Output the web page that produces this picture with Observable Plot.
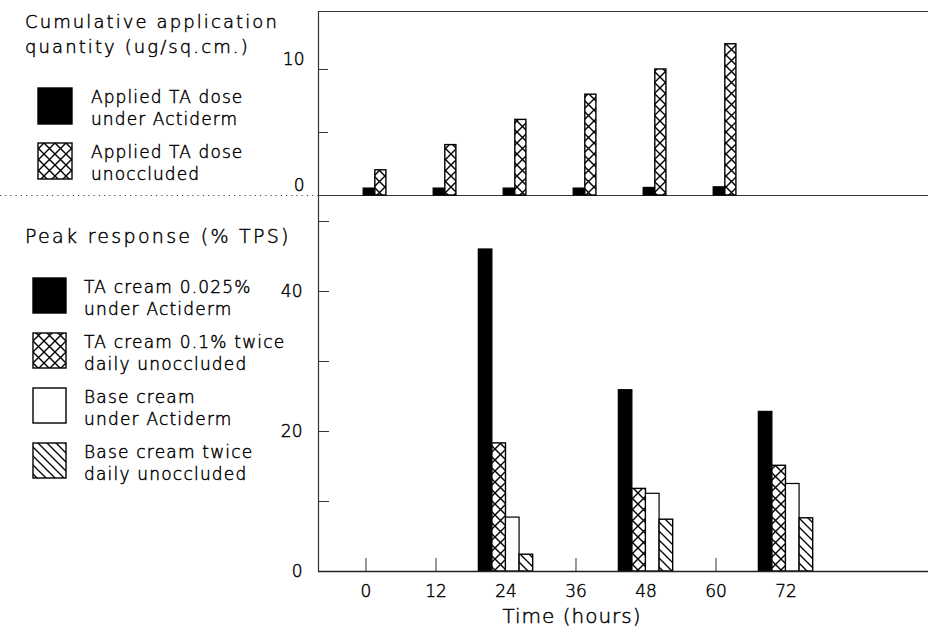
<!DOCTYPE html>
<html><head><meta charset="utf-8">
<script src="https://cdn.jsdelivr.net/npm/d3@7"></script>
<script src="https://cdn.jsdelivr.net/npm/@observablehq/plot@0.6"></script>
<style>
body{margin:0;background:#fff;}
#fig{position:relative;width:928px;height:632px;overflow:hidden;font-family:"DejaVu Sans",sans-serif;font-weight:200;color:#000;}
#fig > svg, #fig > div{position:absolute;}
#fig svg text{paint-order:normal !important;}
</style></head><body>
<div id="fig"></div>
<script>
// ---------- data ----------
const hours = [0, 12, 24, 36, 48, 60, 72];
const doseTimes = [0, 12, 24, 36, 48, 60];
const doseOccluded = [0.55, 0.55, 0.55, 0.55, 0.6, 0.65];
const doseUnoccluded = [2, 4, 6, 8, 10, 12];
const responseTimes = [24, 48, 72];
const taOccluded = [46, 25.9, 22.8];
const taUnoccluded = [18.3, 11.8, 15.1];
const baseOccluded = [7.7, 11.1, 12.5];
const baseUnoccluded = [2.4, 7.4, 7.6];
const topTicks = [5, 10];
const topTickLabels = [0, 10];
const bottomTicks = [10, 20, 30, 40, 50];
const bottomTickLabels = [0, 20, 40];
const topTitle = ["Cumulative application", "quantity (ug/sq.cm.)"];
const topLegend = [["Applied TA dose", "under Actiderm"], ["Applied TA dose", "unoccluded"]];
const bottomTitle = "Peak response (% TPS)";
const bottomLegend = [["TA cream 0.025%", "under Actiderm"], ["TA cream 0.1% twice", "daily unoccluded"], ["Base cream", "under Actiderm"], ["Base cream twice", "daily unoccluded"]];
const xLabel = "Time (hours)";

// ---------- styles ----------
const FONT = '"DejaVu Sans",sans-serif';
const FW = 200;
const INK = "#000";
const TS = 0.45; // slight text stroke to thicken the light face
const fillSolid = "#000", fillCross = "url(#pat-cross)", fillWhite = "#fff", fillDiag = "url(#pat-diag)";
const xDomain = [-8.14, 96.43];
const W = 928, ML = 318;
const fig = document.getElementById("fig");

// pattern defs
fig.insertAdjacentHTML("beforeend", `
<svg width="0" height="0" style="position:absolute;left:0;top:0">
 <defs>
  <pattern id="pat-cross" patternUnits="userSpaceOnUse" width="11" height="11">
    <rect width="11" height="11" fill="#fff"/>
    <path d="M0,0L11,11M11,0L0,11" stroke="#000" stroke-width="1.4" fill="none"/>
  </pattern>
  <pattern id="pat-diag" patternUnits="userSpaceOnUse" width="9" height="9">
    <rect width="9" height="9" fill="#fff"/>
    <path d="M0,0L9,9M-1,8L1,10M8,-1L10,1" stroke="#000" stroke-width="1.3" fill="none"/>
  </pattern>
 </defs>
</svg>`);

const doseTable = doseTimes.map((t, i) => ({t, occ: doseOccluded[i], unocc: doseUnoccluded[i]}));
const respTable = responseTimes.map((t, i) => ({t, a: taOccluded[i], b: taUnoccluded[i], c: baseOccluded[i], d: baseUnoccluded[i]}));

const axisText = {fontSize: 17, fontWeight: FW, fill: INK, stroke: INK, strokeWidth: TS};

// ---------- top panel ----------
const topH = 196, topMT = 11, topMB = 1;
const topPlot = Plot.plot({
  width: W, height: topH,
  marginLeft: ML, marginRight: 0, marginTop: topMT, marginBottom: topMB,
  style: {fontFamily: FONT, fontSize: "17px", fontWeight: FW, color: INK, background: "transparent", overflow: "visible"},
  x: {domain: xDomain, axis: null},
  y: {domain: [0, 14.6], axis: null},
  marks: [
    Plot.ruleY([0], {stroke: "#333", strokeWidth: 1}),
    Plot.ruleY([14.6], {stroke: "#333", strokeWidth: 1.2}),
    Plot.ruleX([xDomain[0]], {stroke: "#333", strokeWidth: 1.2}),
    Plot.tickY(topTicks, {y: d => d, stroke: "#333", insetRight: (W - ML) - 10}),
    Plot.axisY({ticks: topTickLabels, tickSize: 0, tickPadding: 14, dy: -10, label: null, ...axisText}),
    Plot.rectY(doseTable, {x1: d => d.t - 0.4, x2: d => d.t + 1.6, y1: 0, y2: "occ", fill: fillSolid, stroke: "#000", strokeWidth: 1.2}),
    Plot.rectY(doseTable, {x1: d => d.t + 1.6, x2: d => d.t + 3.5, y1: 0, y2: "unocc", fill: fillCross, stroke: "#000", strokeWidth: 1.4})
  ]
});
topPlot.style.left = "0px"; topPlot.style.top = "0px";
fig.appendChild(topPlot);

// ---------- bottom panel ----------
const botTop = 196, botH = 436, botMB = 61;
const bw = 2.33;
const botPlot = Plot.plot({
  width: W, height: botH,
  marginLeft: ML, marginRight: 0, marginTop: 0, marginBottom: botMB,
  style: {fontFamily: FONT, fontSize: "17px", fontWeight: FW, color: INK, background: "transparent", overflow: "visible"},
  x: {domain: xDomain, axis: null},
  y: {domain: [0, 53.57], axis: null},
  marks: [
    Plot.ruleX([xDomain[0]], {stroke: "#333", strokeWidth: 1.2}),
    Plot.tickY(bottomTicks, {y: d => d, stroke: "#333", insetRight: (W - ML) - 11}),
    Plot.tickX(hours, {x: d => d, stroke: "#333", insetTop: (botH - botMB) - 13}),
    Plot.axisY({ticks: bottomTickLabels, tickSize: 0, tickPadding: 16, label: null, ...axisText}),
    Plot.axisX({ticks: hours, tickSize: 0, tickPadding: 13, label: null, ...axisText}),
    Plot.rectY(respTable, {x1: d => d.t - 2 * bw, x2: d => d.t - bw, y1: 0, y2: "a", fill: fillSolid, stroke: "#000", strokeWidth: 1.2}),
    Plot.rectY(respTable, {x1: d => d.t - bw, x2: d => d.t, y1: 0, y2: "b", fill: fillCross, stroke: "#000", strokeWidth: 1.4}),
    Plot.rectY(respTable, {x1: d => d.t, x2: d => d.t + bw, y1: 0, y2: "c", fill: fillWhite, stroke: "#000", strokeWidth: 1.2}),
    Plot.rectY(respTable, {x1: d => d.t + bw, x2: d => d.t + 2 * bw, y1: 0, y2: "d", fill: fillDiag, stroke: "#000", strokeWidth: 1.4}),
    Plot.ruleY([0], {stroke: "#222", strokeWidth: 1.3})
  ]
});
botPlot.style.left = "0px"; botPlot.style.top = botTop + "px";
fig.appendChild(botPlot);

// make axis labels render like the overlay text (stroke on top of fill)
[topPlot, botPlot].forEach(p => d3.select(p).selectAll("g[aria-label$='tick label']")
  .attr("paint-order", null).attr("stroke", INK).attr("stroke-width", TS).attr("fill", INK));

// ---------- left-side titles & legends (overlay) ----------
const ov = d3.create("svg").attr("width", ML).attr("height", 632)
  .style("left", "0px").style("top", "0px")
  .attr("font-family", FONT).attr("font-weight", FW).attr("fill", INK);
ov.append("line").attr("x1", 0).attr("x2", ML).attr("y1", 195.5).attr("y2", 195.5)
  .attr("stroke", "#444").attr("stroke-width", 1.2).attr("stroke-dasharray", "1.2,4");

const txt = (sel) => sel.append("text").attr("stroke", INK).attr("stroke-width", TS);

const tt = txt(ov).attr("font-size", 18).attr("letter-spacing", 2.1);
topTitle.forEach((s, i) => tt.append("tspan").attr("x", 25).attr("y", 28 + i * 25).text(s));

const topFills = [fillSolid, fillCross];
topLegend.forEach((lines, i) => {
  const b = 103 + i * 55;
  ov.append("rect").attr("x", 38).attr("y", b - 15).attr("width", 34).attr("height", 36)
    .attr("fill", topFills[i]).attr("stroke", "#000").attr("stroke-width", 1.4);
  const t = txt(ov).attr("font-size", 17).attr("letter-spacing", 1.1);
  lines.forEach((s, j) => t.append("tspan").attr("x", 91).attr("y", b + j * 22).text(s));
});

txt(ov).attr("x", 25).attr("y", 243).attr("font-size", 19).attr("letter-spacing", 2.3).text(bottomTitle);

const botFills = [fillSolid, fillCross, fillWhite, fillDiag];
bottomLegend.forEach((lines, i) => {
  const b = 293 + i * 55;
  ov.append("rect").attr("x", 33).attr("y", b - 15).attr("width", 33).attr("height", 35)
    .attr("fill", botFills[i]).attr("stroke", "#000").attr("stroke-width", 1.4);
  const t = txt(ov).attr("font-size", 17).attr("letter-spacing", 1.2);
  lines.forEach((s, j) => t.append("tspan").attr("x", 84).attr("y", b + j * 22).text(s));
});
fig.appendChild(ov.node());

// x-axis title
const xl = document.createElement("div");
xl.textContent = xLabel;
Object.assign(xl.style, {left: "472px", width: "200px", top: "603px", textAlign: "center", fontSize: "20px", letterSpacing: "1px", lineHeight: "26px", webkitTextStroke: TS + "px #000"});
fig.appendChild(xl);
</script>
</body></html>
